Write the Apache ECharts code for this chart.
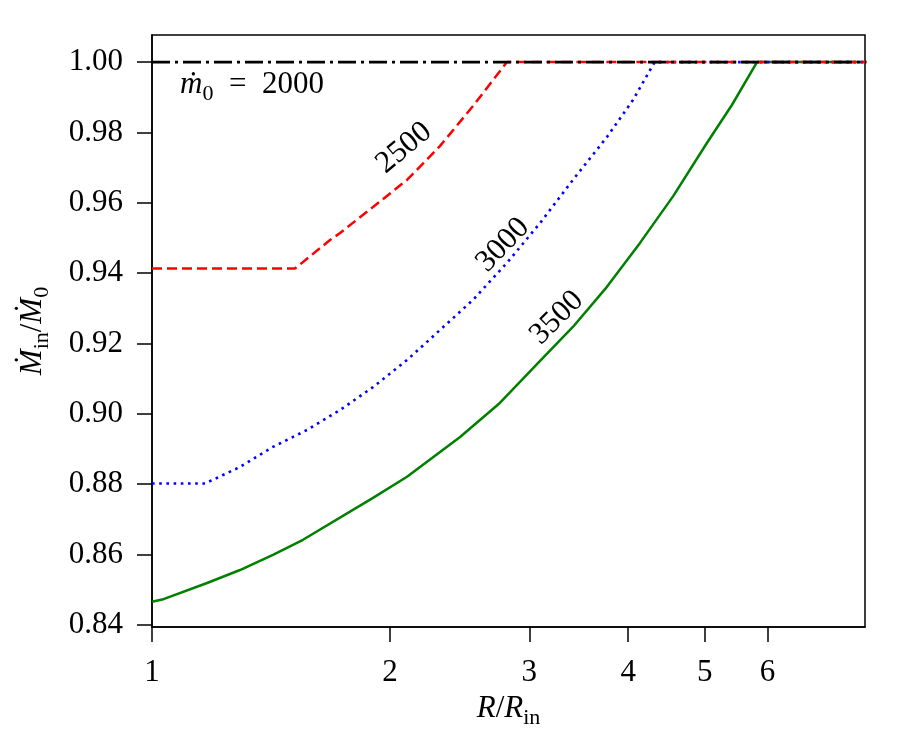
<!DOCTYPE html>
<html>
<head>
<meta charset="utf-8">
<script src="https://cdn.jsdelivr.net/npm/echarts@6/dist/echarts.min.js"></script>
<style>
  html, body { margin: 0; padding: 0; background: #fff; }
  #chart { width: 900px; height: 750px; }
</style>
</head>
<body>
<div id="chart"></div>
<script>
// values
const xTicks = [1, 2, 3, 4, 5, 6]
const yTicks = [0.84, 0.86, 0.88, 0.90, 0.92, 0.94, 0.96, 0.98, 1.00]

const m2000_x = [1, 8]
const m2000_y = [1.0, 1.0]

const m2500_x = [1, 1.516, 1.679, 1.729, 1.903, 2.101, 2.312, 2.546, 2.81, 8]
const m2500_y = [0.9413, 0.9413, 0.9494, 0.9514, 0.9588, 0.9665, 0.9761, 0.9875, 1.0, 1.0]

const m3000_x = [1, 1.167, 1.292, 1.422, 1.570, 1.729, 1.903, 2.101, 2.312, 2.546, 2.81, 3.094, 3.405, 3.760, 4.056, 4.32, 8]
const m3000_y = [0.8802, 0.8802, 0.8849, 0.8906, 0.8954, 0.9011, 0.9076, 0.9153, 0.9238, 0.9324, 0.9429, 0.9542, 0.9665, 0.9787, 0.9892, 1.0, 1.0]

const m3500_x = [1, 1.03, 1.174, 1.292, 1.422, 1.552, 1.903, 2.101, 2.452, 2.753, 3.121, 3.405, 3.760, 4.14, 4.56, 5.03, 5.41, 5.82, 8]
const m3500_y = [0.8466, 0.8472, 0.8519, 0.8556, 0.8599, 0.8642, 0.8761, 0.8821, 0.8934, 0.9031, 0.9159, 0.9247, 0.9361, 0.9486, 0.9619, 0.9770, 0.9878, 1.0, 1.0]

// contour labels: [text, x, y, angle]
const curveLabels = [
  ['2500', 2.083, 0.9756, 40],
  ['3000', 2.778, 0.9480, 46],
  ['3500', 3.25, 0.9273, 45]
]

const pairs = (xs, ys) => xs.map((x, i) => [x, ys[i]])

const serif = 'Liberation Serif'
const fs = 31
const sub = { fontFamily: serif, fontSize: 22, color: '#000', verticalAlign: 'bottom', padding: [0, 0, -5, 0] }
const ital = { fontFamily: serif, fontSize: fs, fontStyle: 'italic', color: '#000' }
const norm = { fontFamily: serif, fontSize: fs, color: '#000' }

const ele = document.getElementById('chart')
const myChart = echarts.init(ele)

const option = {
  backgroundColor: '#ffffff',
  animation: false,
  grid: {
    left: 152, right: 35, top: 35, bottom: 123,
    show: true, borderColor: '#000', borderWidth: 1.5
  },
  xAxis: {
    type: 'log',
    logBase: 10,
    min: 1,
    max: 7.97,
    axisLine: { lineStyle: { color: '#000', width: 1.5 } },
    axisTick: { length: 15, lineStyle: { color: '#000', width: 1.5 }, customValues: xTicks },
    minorTick: { show: false },
    splitLine: { show: false },
    axisLabel: {
      customValues: xTicks,
      margin: 30,
      fontFamily: serif, fontSize: fs, color: '#000',
      formatter: (v) => String(Math.round(v))
    },
    name: '{i|R}{n|/}{i|R}{s|in}',
    nameLocation: 'middle',
    nameGap: 66,
    nameTextStyle: { rich: { i: ital, n: norm, s: sub } }
  },
  yAxis: {
    type: 'value',
    min: 0.8394,
    max: 1.0077,
    axisLine: { lineStyle: { color: '#000', width: 1.5 } },
    axisTick: { length: 15, lineStyle: { color: '#000', width: 1.5 }, customValues: yTicks },
    splitLine: { show: false },
    axisLabel: {
      customValues: yTicks,
      margin: 29,
      fontFamily: serif, fontSize: fs, color: '#000',
      formatter: (v) => v.toFixed(2)
    },
    name: '{i|Ṁ}{s|in}{n|/}{i|Ṁ}{s|0}',
    nameLocation: 'middle',
    nameRotate: 90,
    nameGap: 104,
    nameTextStyle: { rich: { i: ital, n: norm, s: sub } }
  },
  series: [
    {
      name: '3500', type: 'line', data: pairs(m3500_x, m3500_y), symbol: 'none', z: 2,
      lineStyle: { color: '#008000', width: 2.5 }
    },
    {
      name: '3000', type: 'line', data: pairs(m3000_x, m3000_y), symbol: 'none', z: 3,
      lineStyle: { color: '#0000ff', width: 2.6, type: [2.6, 4.6], cap: 'butt' }
    },
    {
      name: '2500', type: 'line', data: pairs(m2500_x, m2500_y), symbol: 'none', z: 4,
      lineStyle: { color: '#ff0000', width: 2.5, type: [10, 5] }
    },
    {
      name: '2000', type: 'line', data: pairs(m2000_x, m2000_y), symbol: 'none', z: 5,
      lineStyle: { color: '#000000', width: 2.6, type: [18, 5, 3, 5] }
    }
  ]
}
myChart.setOption(option, true)

// place the text annotations from data coordinates
const graphics = curveLabels.map(([t, x, y, ang]) => {
  const p = myChart.convertToPixel({ gridIndex: 0 }, [x, y])
  return {
    type: 'text', x: p[0], y: p[1], rotation: ang * Math.PI / 180, z: 10,
    style: { text: t, fontFamily: serif, fontSize: fs, fill: '#000', align: 'center', verticalAlign: 'middle' }
  }
})
const p0 = myChart.convertToPixel({ gridIndex: 0 }, [1.085, 0.9935])
graphics.push({
  type: 'text', x: p0[0], y: p0[1], z: 10,
  style: {
    text: '{i|ṁ}{s|0}{n|\u2002=\u20022000}',
    verticalAlign: 'middle',
    rich: { i: ital, n: norm, s: sub }
  }
})
myChart.setOption({ graphic: graphics })
</script>
</body>
</html>
